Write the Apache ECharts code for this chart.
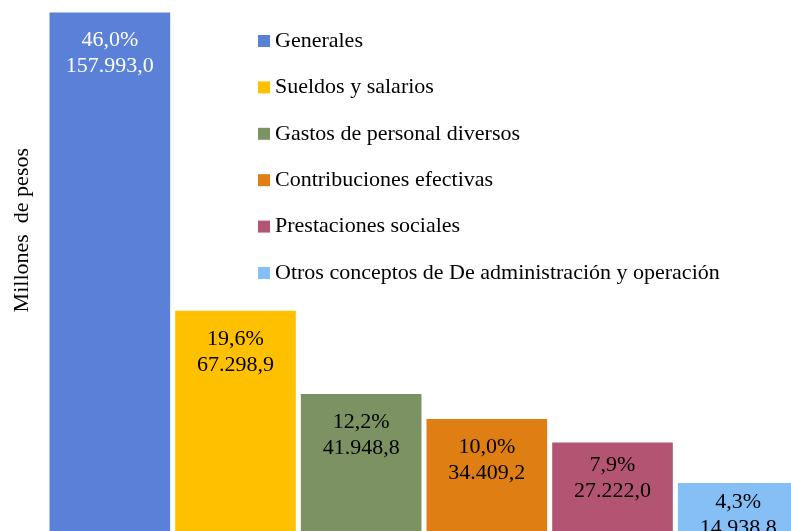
<!DOCTYPE html>
<html lang="es">
  <head>
    <meta charset="UTF-8" />
    <title>Gastos</title>
    <style>
      html, body { margin: 0; padding: 0; background: #fff; }
      #main { width: 791px; height: 531px; }
    </style>
  </head>
  <body>
    <script src="https://cdn.jsdelivr.net/npm/echarts@6/dist/echarts.min.js"></script>
    <div id="main"></div>
    <script>
      const categories = [
        'Generales',
        'Sueldos y salarios',
        'Gastos de personal diversos',
        'Contribuciones efectivas',
        'Prestaciones sociales',
        'Otros conceptos de De administración y operación'
      ]
      const values = [157993.0, 67298.9, 41948.8, 34409.2, 27222.0, 14938.8]
      const percents = [46.0, 19.6, 12.2, 10.0, 7.9, 4.3]
      const colors = ['#5B80D7', '#FFC000', '#7C9263', '#DF7E13', '#B45473', '#85BFF6']
      const labelColors = ['#fff', '#000', '#000', '#000', '#000', '#000']

      const serif = '"Liberation Serif", "Times New Roman", serif'

      // 157993 -> "157.993,0"
      function fmt(v, d) {
        const [int, dec] = v.toFixed(d).split('.')
        return int.replace(/\B(?=(\d{3})+(?!\d))/g, '.') + (dec ? ',' + dec : '')
      }

      const chart = echarts.init(document.getElementById('main'))

      // short bars push their label up a bit, like the original
      const series = categories.map((name, i) => ({
        name,
        type: 'bar',
        barGap: '-100%',
        barCategoryGap: '4%',
        itemStyle: { color: colors[i] },
        label: {
          show: true,
          position: 'insideTop',
          distance: i < 4 ? 15 : i === 4 ? 10 : 6,
          color: labelColors[i],
          fontFamily: serif,
          fontSize: 22,
          lineHeight: 26,
          formatter: () => fmt(percents[i], 1) + '%\n' + fmt(values[i], 1)
        },
        data: categories.map((c, j) => (j === i ? values[i] : null))
      }))

      chart.setOption({
        animation: false,
        grid: { left: 47, top: 6, width: 754, height: 526, outerBoundsMode: 'none' },
        xAxis: { type: 'category', data: categories, show: false },
        yAxis: { type: 'value', min: 0, max: 160000, show: false },
        legend: {
          orient: 'vertical',
          left: 253,
          top: 25,
          itemWidth: 12,
          itemHeight: 12,
          itemGap: 24.4,
          icon: 'rect',
          textStyle: { fontFamily: serif, fontSize: 22, color: '#000' },
          data: categories
        },
        graphic: [
          {
            type: 'text',
            left: 11,
            top: 148,
            rotation: Math.PI / 2,
            style: {
              text: 'Millones  de pesos',
              font: '22px ' + serif,
              fill: '#000'
            }
          }
        ],
        series
      })
    </script>
  </body>
</html>
